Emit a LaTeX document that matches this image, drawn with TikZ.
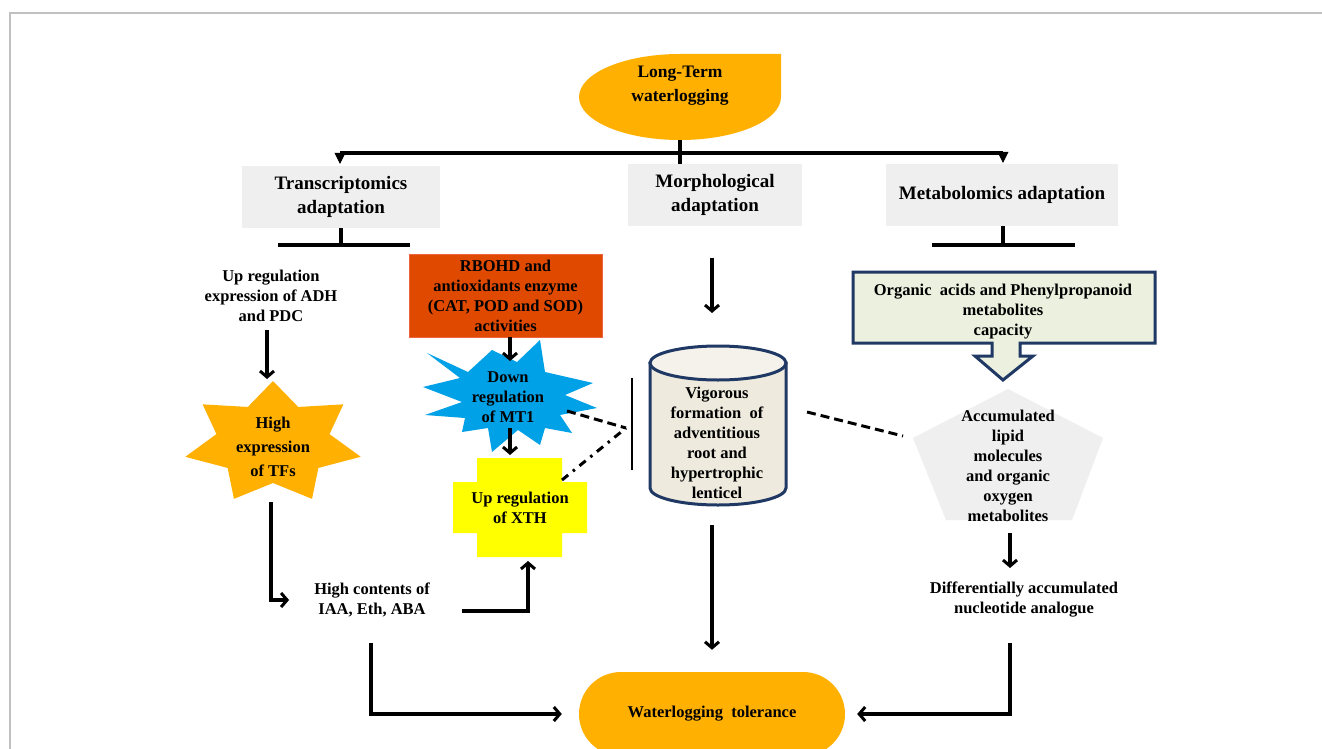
\documentclass[tikz,border=0pt]{standalone}
\usepackage{fontspec}
\setmainfont{Liberation Serif}
\usetikzlibrary{arrows.meta,calc,shapes.misc}
\definecolor{orng}{RGB}{255,176,0}
\definecolor{redbox}{RGB}{224,74,0}
\definecolor{redline}{RGB}{236,100,60}
\definecolor{bluestar}{RGB}{0,161,230}
\definecolor{yel}{RGB}{255,255,0}
\definecolor{gbox}{RGB}{239,239,239}
\definecolor{beige}{RGB}{238,235,222}
\definecolor{beigetop}{RGB}{244,242,234}
\definecolor{navy}{RGB}{31,56,100}
\definecolor{greenbox}{RGB}{235,241,222}
\definecolor{frame}{RGB}{192,192,192}
\begin{document}
\begin{tikzpicture}[x=1pt,y=-1pt,
  every node/.style={text=black, font=\bfseries\fontsize{16.5}{20}\selectfont, align=center, inner sep=0pt},
  head/.style={fill=gbox, font=\bfseries\fontsize{19}{24}\selectfont},
  ln/.style={line width=3.2pt, draw=black},
  arr/.style={ln, -{Straight Barb[length=6pt,width=14pt,line width=3pt]}},
  tip/.style={ln, -{Triangle[length=11pt,width=11pt,line width=0.5pt]}},
  dsh/.style={line width=3pt, draw=black, dash pattern=on 9pt off 5pt},
  dshdot/.style={line width=3pt, draw=black, dash pattern=on 8pt off 6pt on 2.5pt off 6pt}]
\path[use as bounding box, clip] (0,0) rectangle (1322,749);
\fill[white] (0,0) rectangle (1322,749);
% frame
\draw[frame, line width=1.2pt] (10,749) -- (10,13) -- (1322,13);

% Long-term waterlogging
\fill[orng] (680,54) arc[start angle=270, end angle=0, x radius=101, y radius=43] -- (781,54) -- cycle;
\node[font=\bfseries\fontsize{17.5}{24}\selectfont] (lt) at (680,86) {Long-Term\\waterlogging};
\coordinate (ltb) at (680,140);

% header boxes
\node[head, minimum width=198pt, minimum height=62pt] (trans) at (341,197) {Transcriptomics\\adaptation};
\node[head, minimum width=174pt, minimum height=62pt] (morph) at (715,195) {Morphological\\adaptation};
\node[head, minimum width=232pt, minimum height=62pt] (metab) at (1002,195) {Metabolomics adaptation};

% tree
\coordinate (tl) at (340,153);
\coordinate (tr) at (1003,153);
\draw[ln] (tl) -- (tr);
\draw[ln] (ltb) -- (morph.north -| ltb);
\draw[tip] (tl) -- ([yshift=2pt]tl |- trans.north);
\draw[tip] (tr) -- ([yshift=1pt]tr |- metab.north);

% T bars
\coordinate (tb1) at (341,245);
\coordinate (tb2) at (1003,245);
\draw[ln] (trans.south) -- (tb1);
\draw[ln] (278,245) -- (410,245);
\draw[ln] (metab.south -| tb2) -- (tb2);
\draw[ln] (932,245) -- (1075,245);

% left column
\node (upreg) at (271,296) {Up regulation\\expression of ADH\\and PDC};
\begin{scope}[shift={(273,443)}]
\fill[orng] (-90:90 and 62) \foreach \i in {0,...,6}{ -- ({-64.2857+\i*51.4286}:58 and 40) -- ({-38.5714+\i*51.4286}:90 and 62)} -- cycle;
\end{scope}
\node[font=\bfseries\fontsize{16.5}{24}\selectfont] (tfs) at (273,447) {High\\expression\\of TFs};
\coordinate (tftop) at (267,379);
\draw[arr] (267,330) -- (tftop);
\node (hc) at (372,600) {High contents of\\IAA, Eth, ABA};
\coordinate (tfbot) at (271,502);
\draw[arr] (tfbot) |- ([xshift=-25pt]hc.west);

% RBOHD box
\node[fill=redbox, draw=redline, line width=0.8pt, minimum width=193pt, minimum height=83pt] (rb) at (505.5,295.5) {RBOHD and\\antioxidants enzyme\\(CAT, POD and SOD)\\activities};

% blue explosion
\fill[bluestar] (427,353) -- (468,372) -- (492,350) -- (517,362) -- (540,340) -- (545,372)
  -- (593,383) -- (565,395) -- (597,408) -- (560,415) -- (572,433) -- (545,428)
  -- (540,445) -- (518,430) -- (492,452) -- (488,428) -- (462,432) -- (465,418)
  -- (425,415) -- (462,402) -- (423,387) -- (460,378) -- cycle;
\node (mt1) at (508,397) {Down\\regulation\\of MT1};
\draw[arr] ([xshift=4.5pt]rb.south) -- (510,361);

% yellow cross
\fill[yel] (477,458) -- (562,458) -- (562,482) -- (587,482) -- (587,533) -- (562,533)
  -- (562,557) -- (477,557) -- (477,533) -- (453,533) -- (453,482) -- (477,482) -- cycle;
\node (xth) at (520,508) {Up regulation\\of XTH};
\coordinate (xthtop) at (510,455);
\coordinate (xthbot) at (528,561);
\draw[arr] (510,428) -- (xthtop);
\draw[arr] (462,611) -| (xthbot);

% inhibition links
\coordinate (bar1) at (632,378);
\coordinate (bar2) at (632,470);
\coordinate (meet) at (626,428);
\draw[line width=2.6pt] (bar1) -- (bar2);
\draw[dsh] (567,411) -- (meet);
\draw[dshdot] (562,480) -- (meet);

% cylinder
\filldraw[fill=beige, draw=navy, line width=3pt] (650,363) -- (650,488) arc[start angle=180, end angle=0, x radius=68, y radius=17] -- (786,363) -- cycle;
\filldraw[fill=beigetop, draw=navy, line width=3pt] (718,363) ellipse[x radius=68, y radius=17];
\node (cyl) at (717,443) {Vigorous\\formation\ \ of\\adventitious\\root and\\hypertrophic\\lenticel};
\draw[arr] (712,258) -- (712,313);

% metabolomics column
\filldraw[fill=greenbox, draw=navy, line width=3pt] (853,272) -- (1155,272) -- (1155,343) -- (1020,343) -- (1020,356) -- (1033,356) -- (1003,380) -- (975,356) -- (992,356) -- (992,343) -- (853,343) -- cycle;
\node (org) at (1003,312) {Organic\ \ acids and Phenylpropanoid\\metabolites\\capacity};
\fill[gbox] (1008,389) -- (1103,438) -- (1072,520) -- (946,520) -- (913,438) -- cycle;
\node (acc) at (1008,466) {Accumulated\\lipid\\molecules\\and organic\\oxygen\\metabolites};
\draw[dsh] (807,412) -- (903,436);
\draw[arr] (1010,533) -- (1010,568);
\node (diff) at (1024,600) {Differentially accumulated\\nucleotide analogue};

% tolerance
\node[fill=orng, rounded rectangle, minimum width=266pt, minimum height=84pt] (tol) at (712,714) {Waterlogging\ \ tolerance};
\draw[arr] (712,525) -- ([yshift=22pt]tol.north);
\draw[arr] (371,643) |- ([xshift=-17pt]tol.west);
\draw[arr] (1010,643) |- ([xshift=12pt]tol.east);
\end{tikzpicture}
\end{document}
